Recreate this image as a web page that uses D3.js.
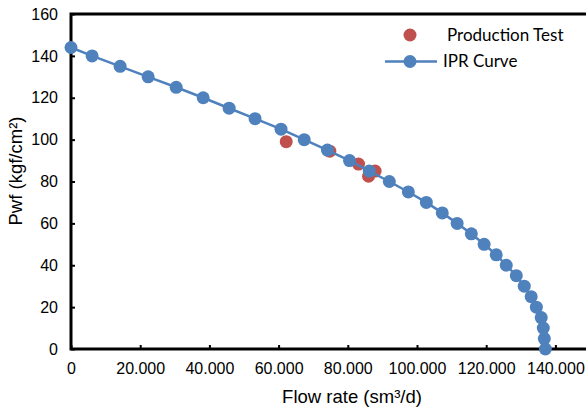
<!DOCTYPE html>
<html>
<head>
<meta charset="utf-8">
<script src="https://cdn.jsdelivr.net/npm/d3@7"></script>
<style>
  body { margin: 0; background: #fff; }
  svg { display: block; }
</style>
</head>
<body>
<script>
const w = 586;
const h = 409;

// IPR curve (flow rate sm3/d, Pwf kgf/cm2)
const iprFlow = [0, 6100, 14200, 22300, 30400, 38200, 45700, 53200, 60700, 67400,
                 74100, 80500, 86200, 92000, 97500, 102700, 107300, 111600, 115700, 119400,
                 122900, 125800, 128700, 131000, 133000, 134500, 135900, 136500, 136800, 137100];
const iprPwf = [144, 140, 135, 130, 125, 120, 115, 110, 105, 100,
                95, 90, 85, 80, 75, 70, 65, 60, 55, 50,
                45, 40, 35, 30, 25, 20, 15, 10, 5, 0];

// production test points
const testFlow = [62200, 74800, 83100, 86000, 87900];
const testPwf = [99, 94.5, 88.3, 82.5, 85];

// the chart is cropped on the right, so the 160.000 tick has no visible label
const xTicks = [0, 20000, 40000, 60000, 80000, 100000, 120000, 140000];
const yTicks = [0, 20, 40, 60, 80, 100, 120, 140, 160];

const blue = "#4F81BD";
const red = "#C0504D";

const plotLeft = 71, plotTop = 14, plotBottom = 349;

const xScale = d3.scaleLinear()
                 .domain([0, 160000])
                 .range([plotLeft, plotLeft + 8 * 69.2]);

const yScale = d3.scaleLinear()
                 .domain([0, 160])
                 .range([plotBottom, plotTop]);

const svg = d3.select("body")
              .append("svg")
              .attr("width", w)
              .attr("height", h);

const fmt = d => d === 0 ? "0" : d3.format(",")(d).replace(/,/g, ".");

// axes (ticks point inward)
const xAxis = d3.axisBottom(xScale).tickValues(xTicks).tickSize(-4).tickPadding(14).tickFormat(fmt);
const yAxis = d3.axisLeft(yScale).tickValues(yTicks).tickSize(-4).tickPadding(13);

const gx = svg.append("g")
   .attr("transform", "translate(0," + plotBottom + ")")
   .call(xAxis);

const gy = svg.append("g")
   .attr("transform", "translate(" + plotLeft + ",0)")
   .call(yAxis);

[gx, gy].forEach(g => {
  g.select(".domain").remove();
  g.selectAll(".tick line").attr("stroke", "#000").attr("stroke-width", 2);
  g.selectAll("text").attr("font-family", "Liberation Sans, Arial, sans-serif")
   .attr("font-size", 16).attr("fill", "#000");
});

// plot area border
svg.append("rect")
   .attr("x", plotLeft)
   .attr("y", plotTop)
   .attr("width", xScale(160000) - plotLeft)
   .attr("height", plotBottom - plotTop)
   .attr("fill", "none")
   .attr("stroke", "#000")
   .attr("stroke-width", 3);

// production test
svg.selectAll(".test")
   .data(testFlow)
   .enter()
   .append("circle")
   .attr("class", "test")
   .attr("cx", d => xScale(d))
   .attr("cy", (d, i) => yScale(testPwf[i]))
   .attr("r", 6.5)
   .attr("fill", red);

// IPR curve
const line = d3.line()
               .x(d => xScale(d))
               .y((d, i) => yScale(iprPwf[i]));

svg.append("path")
   .datum(iprFlow)
   .attr("d", line)
   .attr("fill", "none")
   .attr("stroke", blue)
   .attr("stroke-width", 2.5);

svg.selectAll(".ipr")
   .data(iprFlow)
   .enter()
   .append("circle")
   .attr("class", "ipr")
   .attr("cx", d => xScale(d))
   .attr("cy", (d, i) => yScale(iprPwf[i]))
   .attr("r", 6.5)
   .attr("fill", blue);

// axis titles
svg.append("text")
   .attr("x", 352)
   .attr("y", 403)
   .attr("text-anchor", "middle")
   .attr("font-family", "Liberation Sans, Arial, sans-serif")
   .attr("font-size", 18.5)
   .text("Flow rate (sm³/d)");

svg.append("text")
   .attr("transform", "translate(22,171) rotate(-90)")
   .attr("text-anchor", "middle")
   .attr("font-family", "Liberation Sans, Arial, sans-serif")
   .attr("font-size", 18.5)
   .text("Pwf (kgf/cm²)");

// legend
const legend = svg.append("g").attr("font-family", "Lato, sans-serif").attr("font-size", 17);

legend.append("circle").attr("cx", 410).attr("cy", 35).attr("r", 6.5).attr("fill", red);
legend.append("text").attr("x", 447).attr("y", 41).text("Production Test");

legend.append("line").attr("x1", 385).attr("x2", 437).attr("y1", 61.5).attr("y2", 61.5)
      .attr("stroke", blue).attr("stroke-width", 2.5);
legend.append("circle").attr("cx", 410).attr("cy", 61.5).attr("r", 6.5).attr("fill", blue);
legend.append("text").attr("x", 443).attr("y", 67).text("IPR Curve");
</script>
</body>
</html>
